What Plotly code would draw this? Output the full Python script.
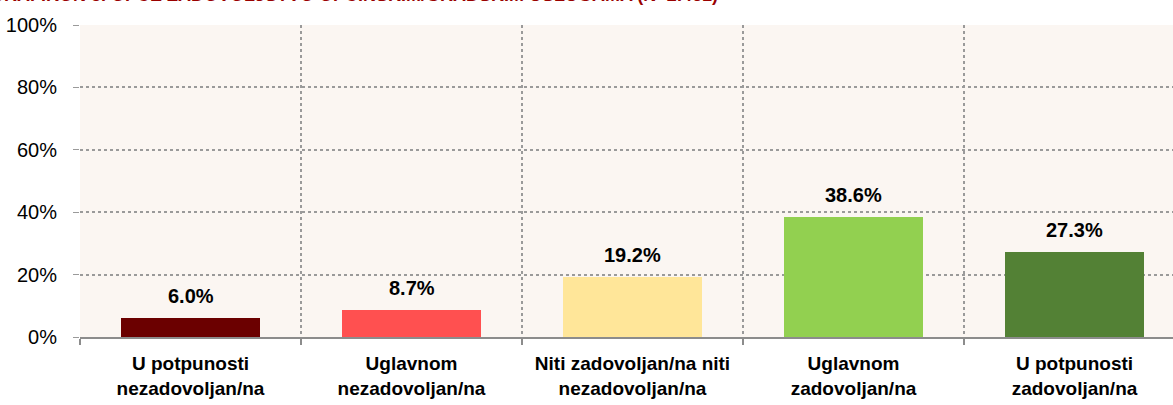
import plotly.graph_objects as go

categories = [
    "U potpunosti<br>nezadovoljan/na",
    "Uglavnom<br>nezadovoljan/na",
    "Niti zadovoljan/na niti<br>nezadovoljan/na",
    "Uglavnom<br>zadovoljan/na",
    "U potpunosti<br>zadovoljan/na",
]
values = [6.0, 8.7, 19.2, 38.6, 27.3]
bar_colors = ["#6B0000", "#FF5050", "#FFE699", "#92D050", "#538135"]
y_ticks = [0, 20, 40, 60, 80, 100]
y_tick_labels = ["0%", "20%", "40%", "60%", "80%", "100%"]
title = "GRAFIKON 3. OPĆE ZADOVOLJSTVO OPĆINSKIM/GRADSKIM USLUGAMA (N=2.461)"

FONT = "Liberation Sans Narrow, Arial Narrow, Liberation Sans, Arial"
x = list(range(len(categories)))

L, T, B = 80, 25, 68
plot_w = 1173 - L

fig = go.Figure()
fig.add_trace(go.Bar(
    x=x,
    y=values,
    width=0.63,
    marker=dict(color=bar_colors, line=dict(width=0)),
    hoverinfo="skip",
))

# value labels above the bars
for xi, v in zip(x, values):
    fig.add_annotation(
        x=xi, y=v, xref="x", yref="y",
        text=f"<b>{v:.1f}%</b>", showarrow=False,
        yanchor="bottom", yshift=9,
        font=dict(family=FONT, size=20, color="black"),
    )

# title, mostly cut off at the top edge like in the original
fig.add_annotation(
    x=(720 - L) / plot_w, y=1, xref="paper", yref="paper",
    text=f"<b>{title}</b>", showarrow=False,
    xanchor="right", yanchor="bottom", yshift=18,
    font=dict(family=FONT, size=18, color="#990000"),
)

boundaries = [i - 0.5 for i in range(len(categories) + 1)]

fig.update_layout(
    width=1173, height=405,
    margin=dict(l=L, r=0, t=T, b=B),
    paper_bgcolor="white",
    plot_bgcolor="#FBF6F2",
    showlegend=False,
    bargap=0,
    font=dict(family=FONT, color="black"),
    xaxis=dict(
        # last category runs past the right edge of the picture
        range=[-0.5, 4.5 - 12 / 221],
        tickvals=x,
        ticktext=categories,
        ticks="",
        ticklabelstandoff=8,
        automargin=False,
        showgrid=False,
        zeroline=False,
        showline=True, linecolor="#8C8C8C", linewidth=2,
        tickfont=dict(family=FONT, size=19, color="black", weight="bold"),
        minor=dict(
            tickvals=boundaries, ticks="outside", ticklen=6,
            tickcolor="#8C8C8C", tickwidth=2,
            showgrid=True, gridcolor="#9A9A9A", griddash="dot", gridwidth=1.5,
        ),
    ),
    yaxis=dict(
        range=[0, 100],
        tickvals=y_ticks,
        ticktext=y_tick_labels,
        automargin=False,
        showgrid=True, gridcolor="#9A9A9A", griddash="dot", gridwidth=1.5,
        zeroline=False,
        ticks="outside", ticklen=6, tickcolor="#9A9A9A",
        ticklabelstandoff=12,
        tickfont=dict(family=FONT, size=20, color="black"),
    ),
)

# drop the default body margin so the chart sits at the page corner
fig.write_html(
    "out.html",
    config={"displayModeBar": False},
    post_script="document.body.style.margin = '0';",
)
